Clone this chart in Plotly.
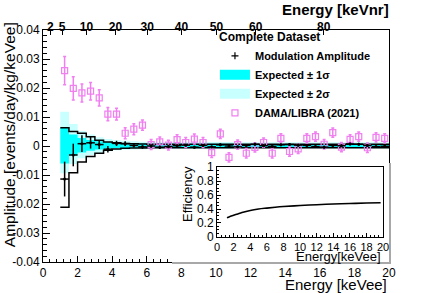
import numpy as np
import plotly.graph_objects as go

# ---------------- data ----------------
bin_centers = [1.25, 1.75, 2.25, 2.75, 3.25, 3.75, 4.25, 4.75, 5.25, 5.75,
               6.25, 6.75, 7.25, 7.75, 8.25, 8.75, 9.25, 9.75, 10.25, 10.75,
               11.25, 11.75, 12.25, 12.75, 13.25, 13.75, 14.25, 14.75, 15.25, 15.75,
               16.25, 16.75, 17.25, 17.75, 18.25, 18.75, 19.25, 19.75]

mod_amp = [-0.0114, -0.0031, 0.0008, 0.0011, 0.0005, -0.0011, 0.0009, 0.0008, 0.0002, -0.0003,
           0.0000, -0.0004, -0.0002, 0.0001, 0.0003, -0.0004, 0.0002, -0.0003, 0.0004, 0.0000,
           -0.0003, 0.0002, 0.0006, 0.0001, -0.0001, 0.0004, 0.0005, 0.0003, 0.0002, -0.0002,
           -0.0004, 0.0002, 0.0001, 0.0007, 0.0006, 0.0002, -0.0002, -0.0001]
mod_err = [0.0060, 0.0039, 0.0029, 0.0020, 0.0015, 0.0011, 0.0009, 0.0008, 0.0007, 0.0007,
           0.0006, 0.0006, 0.0006, 0.0005, 0.0005, 0.0005, 0.0005, 0.0005, 0.0005, 0.0005,
           0.0005, 0.0005, 0.0005, 0.0005, 0.0005, 0.0005, 0.0005, 0.0005, 0.0005, 0.0005,
           0.0005, 0.0005, 0.0005, 0.0005, 0.0005, 0.0005, 0.0005, 0.0005]

exp_1s_hi = [0.0062, 0.0040, 0.0028, 0.0021, 0.0016, 0.0013, 0.0011, 0.0010, 0.0009, 0.0009,
             0.0008, 0.0008, 0.0008, 0.0008, 0.0008, 0.0008, 0.0008, 0.0008, 0.0008, 0.0008,
             0.0007, 0.0007, 0.0007, 0.0007, 0.0007, 0.0007, 0.0007, 0.0007, 0.0007, 0.0007,
             0.0007, 0.0007, 0.0007, 0.0007, 0.0007, 0.0007, 0.0007, 0.0007]
exp_1s_lo = [-0.0060, -0.0032, -0.0022, -0.0016, -0.0012, -0.0009, -0.0008, -0.0007, -0.0006, -0.0006,
             -0.0005, -0.0005, -0.0005, -0.0005, -0.0005, -0.0005, -0.0005, -0.0005, -0.0005, -0.0005,
             -0.0004, -0.0004, -0.0004, -0.0004, -0.0004, -0.0004, -0.0004, -0.0004, -0.0004, -0.0004,
             -0.0004, -0.0004, -0.0004, -0.0004, -0.0004, -0.0004, -0.0004, -0.0004]
exp_2s_hi = [0.0118, 0.0076, 0.0052, 0.0040, 0.0030, 0.0024, 0.0020, 0.0018, 0.0016, 0.0015,
             0.0014, 0.0014, 0.0014, 0.0014, 0.0014, 0.0014, 0.0014, 0.0014, 0.0014, 0.0014,
             0.0013, 0.0013, 0.0013, 0.0013, 0.0013, 0.0013, 0.0013, 0.0013, 0.0013, 0.0013,
             0.0013, 0.0013, 0.0013, 0.0013, 0.0013, 0.0013, 0.0013, 0.0013]
exp_2s_lo = [-0.0094, -0.0062, -0.0042, -0.0031, -0.0024, -0.0018, -0.0015, -0.0013, -0.0012, -0.0011,
             -0.0010, -0.0010, -0.0010, -0.0010, -0.0010, -0.0010, -0.0010, -0.0010, -0.0010, -0.0010,
             -0.0009, -0.0009, -0.0009, -0.0009, -0.0009, -0.0009, -0.0009, -0.0009, -0.0009, -0.0009,
             -0.0009, -0.0009, -0.0009, -0.0009, -0.0009, -0.0009, -0.0009, -0.0009]

env_hi = [0.0063, 0.0050, 0.0044, 0.0032, 0.0020, 0.0014, 0.0011, 0.0009, 0.0008, 0.0007,
          0.0006, 0.0006, 0.0006, 0.0006, 0.0006, 0.0006, 0.0006, 0.0006, 0.0006, 0.0006,
          0.0006, 0.0006, 0.0006, 0.0006, 0.0006, 0.0006, 0.0006, 0.0006, 0.0006, 0.0006,
          0.0006, 0.0006, 0.0006, 0.0006, 0.0006, 0.0006, 0.0006, 0.0006]
env_lo = [-0.0211, -0.0092, -0.0055, -0.0036, -0.0025, -0.0015, -0.0010, -0.0008, -0.0007, -0.0007,
          -0.0006, -0.0006, -0.0006, -0.0006, -0.0006, -0.0006, -0.0006, -0.0006, -0.0006, -0.0006,
          -0.0006, -0.0006, -0.0006, -0.0006, -0.0006, -0.0006, -0.0006, -0.0006, -0.0006, -0.0006,
          -0.0006, -0.0006, -0.0006, -0.0006, -0.0006, -0.0006, -0.0006, -0.0006]

dama_amp = [0.0260, 0.0199, 0.0183, 0.0189, 0.0166, 0.0110, 0.0110, 0.0044, 0.0058, 0.0072,
            0.0005, 0.0014, 0.0003, 0.0022, 0.0012, 0.0024, 0.0012, -0.0023, 0.0042, -0.0039,
            0.0005, -0.0025, -0.0005, 0.0012, -0.0025, 0.0026, -0.0019, -0.0010, 0.0026, 0.0032,
            0.0006, 0.0046, -0.0004, 0.0023, 0.0032, -0.0006, 0.0030, 0.0026]
dama_err = [0.0049, 0.0040, 0.0031, 0.0030, 0.0028, 0.0023, 0.0020, 0.0019, 0.0019, 0.0018,
            0.0017, 0.0017, 0.0017, 0.0017, 0.0017, 0.0017, 0.0017, 0.0017, 0.0016, 0.0016,
            0.0016, 0.0016, 0.0016, 0.0016, 0.0016, 0.0016, 0.0016, 0.0016, 0.0016, 0.0016,
            0.0016, 0.0016, 0.0016, 0.0016, 0.0016, 0.0016, 0.0016, 0.0016]

eff_energy = [1.2, 1.5, 2.0, 2.5, 3.0, 4.0, 5.0, 6.0, 7.0, 8.0, 10.0, 12.0, 14.0, 16.0, 18.0, 19.7]
eff_value = [0.275, 0.29, 0.31, 0.33, 0.35, 0.38, 0.40, 0.413, 0.425, 0.435, 0.45, 0.462, 0.472,
             0.479, 0.485, 0.49]

kevnr_labels = ["2", "5", "10", "20", "30", "40", "50", "60", "80"]
kevnr_at_kevee = [0.43, 1.11, 2.51, 4.19, 6.02, 8.0, 10.03, 12.3, 16.23]

y_tickvals = [-0.04, -0.03, -0.02, -0.01, 0.0, 0.01, 0.02, 0.03, 0.04]
y_ticktext = ["-0.04", "-0.03", "-0.02", "-0.01", "0", "0.01", "0.02", "0.03", "0.04"]

# ---------------- derived ----------------
centers = np.array(bin_centers)
half_w = np.diff(centers).mean() / 2.0
edges = np.append(centers - half_w, centers[-1] + half_w)


def step(vals):
    return list(vals) + [vals[-1]]


FONT = "Liberation Sans, Arial, Helvetica, sans-serif"
CYAN1 = "#00ffff"
CYAN2 = "#c8ffff"
DAMA_C = "#f07ff0"

fig = go.Figure()

# 2 sigma band
fig.add_trace(go.Scatter(x=edges, y=step(exp_2s_hi), mode="lines", line=dict(width=0, shape="hv"),
                         showlegend=False, hoverinfo="skip"))
fig.add_trace(go.Scatter(x=edges, y=step(exp_2s_lo), mode="lines", line=dict(width=0, shape="hv"),
                         fill="tonexty", fillcolor=CYAN2, showlegend=False, hoverinfo="skip"))
# 1 sigma band
fig.add_trace(go.Scatter(x=edges, y=step(exp_1s_hi), mode="lines", line=dict(width=0, shape="hv"),
                         showlegend=False, hoverinfo="skip"))
fig.add_trace(go.Scatter(x=edges, y=step(exp_1s_lo), mode="lines", line=dict(width=0, shape="hv"),
                         fill="tonexty", fillcolor=CYAN1, showlegend=False, hoverinfo="skip"))
# envelope step lines
for env in (env_hi, env_lo):
    fig.add_trace(go.Scatter(x=edges, y=step(env), mode="lines",
                             line=dict(width=1.5, color="black", shape="hv"),
                             showlegend=False, hoverinfo="skip"))

# DAMA/LIBRA
fig.add_trace(go.Scatter(
    x=bin_centers, y=dama_amp, mode="markers", name="DAMA/LIBRA (2021)", legendrank=4,
    marker=dict(symbol="square-open", size=6, color=DAMA_C, line=dict(width=1.2, color=DAMA_C)),
    error_y=dict(type="data", array=dama_err, visible=True, color=DAMA_C, thickness=1.5, width=1.5)))

# modulation amplitude
fig.add_trace(go.Scatter(
    x=bin_centers, y=mod_amp, mode="markers", showlegend=False,
    marker=dict(symbol="circle", size=3, color="black"),
    error_y=dict(type="data", array=mod_err, visible=True, color="black", thickness=1.5, width=0),
    error_x=dict(type="constant", value=half_w, visible=True, color="black", thickness=1.5, width=0)))

# legend-only entries
fig.add_trace(go.Scatter(x=[None], y=[None], mode="markers", name="Modulation Amplitude", legendrank=1,
                         marker=dict(symbol="cross-thin", size=5, color="black",
                                     line=dict(width=1.2, color="black"))))
fig.add_trace(go.Scatter(x=[None], y=[None], mode="lines", name="Expected \u00b1 1\u03c3", legendrank=2,
                         line=dict(color=CYAN1, width=10)))
fig.add_trace(go.Scatter(x=[None], y=[None], mode="lines", name="Expected \u00b1 2\u03c3", legendrank=3,
                         line=dict(color=CYAN2, width=10)))

# top axis holder
fig.add_trace(go.Scatter(x=[], y=[], xaxis="x2", yaxis="y", showlegend=False, hoverinfo="skip"))
# inset pad holder
fig.add_trace(go.Scatter(x=[], y=[], xaxis="x3", yaxis="y3", showlegend=False, hoverinfo="skip"))
# efficiency inset
fig.add_trace(go.Scatter(x=eff_energy, y=eff_value, mode="lines", xaxis="x4", yaxis="y4",
                         line=dict(color="black", width=1.6, shape="spline"),
                         showlegend=False, hoverinfo="skip"))

axis_common = dict(showgrid=False, zeroline=False, color="black")

fig.update_layout(
    width=432, height=293,
    margin=dict(l=43, r=43, t=30, b=31),
    paper_bgcolor="white", plot_bgcolor="white",
    font=dict(family=FONT, color="black", size=12),
    showlegend=True,
    legend=dict(x=0.497, y=0.951, xanchor="left", yanchor="top", bgcolor="rgba(0,0,0,0)",
                borderwidth=0, font=dict(size=11, weight="bold"), tracegroupgap=0,
                traceorder="normal"),
    xaxis=dict(domain=[0, 1], anchor="y", range=[0, 20], dtick=2, tick0=0,
               ticks="inside", ticklen=6, tickwidth=1, tickcolor="black",
               minor=dict(ticks="inside", ticklen=3, dtick=0.4, tickcolor="black"),
               showline=True, linecolor="black", linewidth=1, mirror=True,
               tickfont=dict(size=12), **axis_common),
    yaxis=dict(domain=[0, 1], anchor="x", range=[-0.04, 0.04], tickmode="array",
               tickvals=y_tickvals, ticktext=y_ticktext,
               ticks="inside", ticklen=7, tickwidth=1, tickcolor="black",
               minor=dict(ticks="inside", ticklen=3.5, dtick=0.002, tickcolor="black"),
               showline=True, linecolor="black", linewidth=1, mirror=True,
               tickfont=dict(size=12), **axis_common),
    xaxis2=dict(overlaying="x", side="top", anchor="y", range=[0, 20], tickmode="array",
                tickvals=kevnr_at_kevee, ticktext=kevnr_labels,
                ticks="inside", ticklen=5, tickcolor="black", showline=False,
                ticklabelstandoff=-4,
                tickfont=dict(size=12, weight="bold"), **axis_common),
    xaxis3=dict(domain=[0.373, 1.0], anchor="y3", range=[0, 1], showticklabels=False, ticks="",
                showline=True, linecolor="#a8a8a8", linewidth=2, fixedrange=True, **axis_common),
    yaxis3=dict(domain=[0.0, 0.427], anchor="x3", range=[0, 1], side="right", showticklabels=False,
                ticks="", showline=True, linecolor="#a8a8a8", linewidth=2, fixedrange=True,
                **axis_common),
    xaxis4=dict(domain=[0.503, 0.983], anchor="y4", range=[0, 20], dtick=2, tick0=0,
                ticks="inside", ticklen=4, tickcolor="black",
                minor=dict(ticks="inside", ticklen=2, dtick=0.5, tickcolor="black"),
                showline=True, linecolor="black", linewidth=1, mirror=True,
                tickfont=dict(size=11), **axis_common),
    yaxis4=dict(domain=[0.108, 0.409], anchor="x4", range=[0, 1], dtick=0.2, tick0=0,
                ticks="inside", ticklen=4, tickcolor="black",
                minor=dict(ticks="inside", ticklen=2, dtick=0.05, tickcolor="black"),
                showline=True, linecolor="black", linewidth=1, mirror=True,
                tickfont=dict(size=12), **axis_common),
    annotations=[
        dict(text="Amplitude [events/day/kg/keVee]", xref="paper", yref="paper", x=-0.098, y=0.547,
             textangle=-90, xanchor="center", yanchor="middle", showarrow=False,
             font=dict(size=15.5)),
        dict(text="Energy [keVee]", xref="paper", yref="paper", x=1.0, y=-0.097,
             xanchor="right", yanchor="middle", showarrow=False, font=dict(size=15)),
        dict(text="Energy [keVnr]", xref="paper", yref="paper", x=1.006, y=1.09,
             xanchor="right", yanchor="middle", showarrow=False, font=dict(size=15, weight="bold")),
        dict(text="Complete Dataset", xref="paper", yref="paper", x=0.503, y=0.970,
             xanchor="left", yanchor="middle", showarrow=False, font=dict(size=12, weight="bold")),
        dict(text="Efficiency", xref="paper", yref="paper", x=0.416, y=0.293, textangle=-90,
             xanchor="center", yanchor="middle", showarrow=False, font=dict(size=13)),
        dict(text="Energy[keVee]", xref="paper", yref="paper", x=0.983, y=0.0216,
             xanchor="right", yanchor="middle", showarrow=False, font=dict(size=13)),
    ],
)

# remove the default page margin so the figure sits at the window's top-left corner
fig.write_html("out.html", config={"displayModeBar": False},
               post_script="document.body.style.margin='0px';")
